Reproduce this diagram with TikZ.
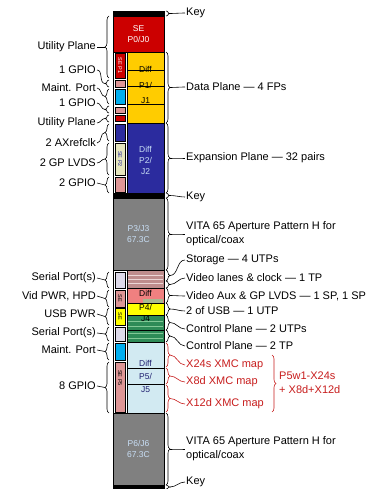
\documentclass[tikz,border=0pt]{standalone}
\usepackage{fontspec}
\setmainfont{Liberation Sans}
\usetikzlibrary{decorations.pathreplacing}
\definecolor{cred}{RGB}{204,0,0}
\definecolor{cyel}{RGB}{255,204,0}
\definecolor{cblue}{RGB}{43,43,158}
\definecolor{cgray}{RGB}{128,128,128}
\definecolor{cpink}{RGB}{222,150,150}
\definecolor{ccyan}{RGB}{0,174,239}
\definecolor{cbeige}{RGB}{230,230,190}
\definecolor{clav}{RGB}{222,218,234}
\definecolor{crose}{RGB}{190,140,140}
\definecolor{cstripe}{RGB}{236,214,214}
\definecolor{csalmon}{RGB}{240,128,128}
\definecolor{cbyel}{RGB}{255,255,0}
\definecolor{cgreen}{RGB}{46,139,87}
\definecolor{cgstripe}{RGB}{130,200,150}
\definecolor{clblue}{RGB}{210,234,242}
\definecolor{cgg}{RGB}{168,184,144}
\definecolor{ctred}{RGB}{200,30,30}
\definecolor{ctlb}{RGB}{200,222,245}
\begin{document}
\begin{tikzpicture}[x=1pt,y=-1pt]
\tikzset{
  lbl/.style={font=\fontsize{11}{14}\selectfont, inner sep=0pt},
  llbl/.style={lbl, anchor=east},
  rlbl/.style={lbl, anchor=west, align=left},
  redlbl/.style={rlbl, text=ctred},
  lbrace/.style={decorate, decoration={brace, amplitude=4pt}, line width=0.6pt},
  rbrace/.style={decorate, decoration={brace, amplitude=4pt}, line width=0.6pt},
  conn/.style={line width=0.6pt},
  blk/.style={draw=black, line width=0.8pt},
  strip/.style={draw=black, line width=0.5pt},
  btxt/.style={font=\fontsize{8.5}{11}\selectfont, inner sep=0pt, align=center},
  stxt/.style={font=\fontsize{5.5}{6}\selectfont, inner sep=0pt, rotate=-90}
}
\useasboundingbox (0,0) rectangle (388,489);
\fill[white] (0,0) rectangle (388,489);

% ---------------- connector body ----------------
\path[blk, fill=white] (113,11) rectangle (164,489);
\path[blk, fill=black] (113,11) rectangle (164,16);
\path[blk, fill=cred] (113,16) rectangle (164,52);
\node[btxt, text=white] (p0) at (138.5,34) {SE\\P0/J0};
% P1
\path[blk, fill=cyel] (127,52) rectangle (164,123);
\draw[line width=0.6pt] (127,70) -- (164,70) (127,86) -- (164,86) (127,104) -- (164,104);
\node[btxt] (p1a) at (145.5,69) {Diff};
\node[btxt] (p1b) at (145.5,85) {P1/};
\node[btxt] (p1c) at (145.5,101) {J1};
\path[strip, fill=cred] (115,53) rectangle (125,78);
\node[stxt, text=white] (s1) at (120,65.5) {SE P1};
\path[strip, fill=cpink] (115,80) rectangle (125,87);
\path[strip, fill=ccyan] (115,89) rectangle (125,104);
\path[strip, fill=cpink] (115,107) rectangle (125,113);
\path[strip, fill=cred] (115,115) rectangle (125,121);
% P2
\path[blk, fill=cblue] (127,123) rectangle (164,193);
\node[btxt, text=ctlb] (p2) at (145.5,160) {Diff\\P2/\\J2};
\path[strip, fill=cblue] (115,124) rectangle (125,141);
\path[strip, fill=cbeige] (115,143) rectangle (125,175);
\node[stxt, text=cblue] (s2) at (120,159) {SE P2};
\path[strip, fill=cpink] (115,177) rectangle (125,192);
\path[blk, fill=black] (113,193) rectangle (164,198);
% P3
\path[blk, fill=cgray] (113,198) rectangle (164,270);
\node[btxt, text=ctlb] (p3) at (138.5,234) {P3/J3\\67.3C};
% P4
\path[blk, fill=crose] (127,270) rectangle (164,288);
\draw[cstripe, line width=1pt] (128,275) -- (163,275) (128,279) -- (163,279) (128,283) -- (163,283);
\path[blk, fill=csalmon] (127,288) rectangle (164,303);
\path[fill=cgg] (143,299) rectangle (163,303);
\path[blk, fill=cbyel] (127,303) rectangle (164,315);
\path[blk, fill=cgreen] (127,315) rectangle (164,342);
\draw[cgstripe, line width=1pt] (128,321) -- (163,321) (128,326) -- (163,326) (128,333) -- (163,333) (128,338) -- (163,338);
\draw[line width=0.6pt] (127,330) -- (164,330);
\node[btxt] (p4a) at (145.5,293) {Diff};
\node[btxt] (p4b) at (145.5,307) {P4/};
\node[btxt] (p4c) at (145.5,319) {J4};
\path[strip, fill=clav] (115,272) rectangle (125,288);
\path[strip, fill=cpink] (115,290) rectangle (125,307);
\node[stxt] (s3) at (120,298.5) {SE};
\path[strip, fill=cbyel] (115,308) rectangle (125,325);
\node[stxt] (s4) at (120,316.5) {SE};
\path[strip, fill=clav] (115,327) rectangle (125,341);
% P5
\path[blk, fill=clblue] (127,342) rectangle (164,413);
\draw[line width=0.6pt] (127,368) -- (164,368) (127,384) -- (164,384);
\node[btxt, text=cblue!70!black] (p5a) at (145.5,363) {Diff};
\node[btxt, text=cblue!70!black] (p5b) at (145.5,376) {P5/};
\node[btxt, text=cblue!70!black] (p5c) at (145.5,390) {J5};
\path[strip, fill=ccyan] (115,343) rectangle (125,360);
\path[strip, fill=cpink] (115,362) rectangle (125,412);
\node[stxt] (s5) at (120,378) {SE P5};
% P6
\path[blk, fill=cgray] (113,413) rectangle (164,485);
\node[btxt, text=ctlb] (p6) at (138.5,449) {P6/J6\\67.3C};
\path[blk, fill=black] (113,485) rectangle (164,489);

% ---------------- left braces & labels ----------------
\draw[lbrace] (109,78) -- (109,16);   \coordinate (tl1) at (105,47);
\draw[lbrace] (109,87) -- (109,80);   \coordinate (tl2) at (105,83.5);
\draw[lbrace] (109,104) -- (109,89);  \coordinate (tl3) at (105,96.5);
\draw[lbrace] (109,113) -- (109,106); \coordinate (tl4) at (105,109.5);
\draw[lbrace] (109,122) -- (109,115); \coordinate (tl5) at (105,118.5);
\draw[lbrace] (109,141) -- (109,124); \coordinate (tl6) at (105,132.5);
\draw[lbrace] (109,175) -- (109,143); \coordinate (tl7) at (105,159);
\draw[lbrace] (109,193) -- (109,177); \coordinate (tl8) at (105,185);
\draw[lbrace] (109,288) -- (109,272); \coordinate (tl9) at (105,280);
\draw[lbrace] (109,307) -- (109,290); \coordinate (tl10) at (105,298.5);
\draw[lbrace] (109,325) -- (109,308); \coordinate (tl11) at (105,316.5);
\draw[lbrace] (109,341) -- (109,327); \coordinate (tl12) at (105,334);
\draw[lbrace] (109,360) -- (109,343); \coordinate (tl13) at (105,351.5);
\draw[lbrace] (109,413) -- (109,362); \coordinate (tl14) at (105,387.5);

\node[llbl] (l1) at (96,47) {Utility Plane};
\node[llbl] (l2) at (96,70) {1 GPIO};
\node[llbl] (l3) at (96,88) {Maint. Port};
\node[llbl] (l4) at (96,103) {1 GPIO};
\node[llbl] (l5) at (96,123) {Utility Plane};
\node[llbl] (l6) at (96,143) {2 AXrefclk};
\node[llbl] (l7) at (96,163) {2 GP LVDS};
\node[llbl] (l8) at (96,183) {2 GPIO};
\node[llbl] (l9) at (96,278) {Serial Port(s)};
\node[llbl] (l10) at (96,296) {Vid PWR, HPD};
\node[llbl] (l11) at (96,314) {USB PWR};
\node[llbl] (l12) at (96,333) {Serial Port(s)};
\node[llbl] (l13) at (96,350) {Maint. Port};
\node[llbl] (l14) at (96,386) {8 GPIO};

\foreach \i in {1,...,14}{
  \draw[conn] ([xshift=1pt]l\i.east) to[out=0,in=180] (tl\i);
}

% ---------------- right braces & labels ----------------
\draw[rbrace] (166,11) -- (166,16);   \coordinate (tr1) at (170,13.5);
\draw[rbrace] (166,52) -- (166,123);  \coordinate (tr2) at (170,87.5);
\draw[rbrace] (166,123) -- (166,193); \coordinate (tr3) at (170,158);
\draw[rbrace] (166,193) -- (166,198); \coordinate (tr4) at (170,195.5);
\draw[rbrace] (166,198) -- (166,270); \coordinate (tr5) at (170,234);
\draw[rbrace] (166,270) -- (166,281); \coordinate (tr6) at (170,275.5);
\draw[rbrace] (166,281) -- (166,288); \coordinate (tr7) at (170,284.5);
\draw[rbrace] (166,288) -- (166,303); \coordinate (tr8) at (170,295.5);
\draw[rbrace] (166,303) -- (166,315); \coordinate (tr9) at (170,309);
\draw[rbrace] (166,315) -- (166,330); \coordinate (tr10) at (170,322.5);
\draw[rbrace] (166,330) -- (166,342); \coordinate (tr11) at (170,336);
\draw[rbrace] (166,413) -- (166,485); \coordinate (tr12) at (170,449);
\draw[rbrace] (166,485) -- (166,489); \coordinate (tr13) at (170,487);
\draw[rbrace, draw=ctred] (166,343) -- (166,367); \coordinate (tx1) at (170,355);
\draw[rbrace, draw=ctred] (166,368) -- (166,384); \coordinate (tx2) at (170,376);
\draw[rbrace, draw=ctred] (166,385) -- (166,412); \coordinate (tx3) at (170,398.5);
\draw[rbrace, draw=ctred] (272,355) -- (272,412);

\node[rlbl] (r1) at (186,13) {Key};
\node[rlbl] (r2) at (186,87) {Data Plane — 4 FPs};
\node[rlbl] (r3) at (186,158) {Expansion Plane — 32 pairs};
\node[rlbl] (r4) at (186,197) {Key};
\node[rlbl] (r5) at (186,234) {VITA 65 Aperture Pattern H for\\optical/coax};
\node[rlbl] (r6) at (186,260) {Storage — 4 UTPs};
\node[rlbl] (r7) at (186,278) {Video lanes \& clock — 1 TP};
\node[rlbl] (r8) at (186,296) {Video Aux \& GP LVDS — 1 SP, 1 SP};
\node[rlbl] (r9) at (186,311) {2 of USB — 1 UTP};
\node[rlbl] (r10) at (186,329) {Control Plane — 2 UTPs};
\node[rlbl] (r11) at (186,346) {Control Plane — 2 TP};
\node[rlbl] (r12) at (186,449) {VITA 65 Aperture Pattern H for\\optical/coax};
\node[rlbl] (r13) at (186,482) {Key};
\node[redlbl] (x1) at (186,365) {X24s XMC map};
\node[redlbl] (x2) at (186,382) {X8d XMC map};
\node[redlbl] (x3) at (186,404) {X12d XMC map};
\node[redlbl] (x4) at (279,383) {P5w1-X24s\\+ X8d+X12d};

\foreach \i in {1,...,13}{
  \draw[conn] (tr\i) to[out=0,in=180] ([xshift=-1pt]r\i.west);
}
\foreach \i in {1,2,3}{
  \draw[conn, ctred] (tx\i) to[out=0,in=180] ([xshift=-1pt]x\i.west);
}
\end{tikzpicture}
\end{document}
